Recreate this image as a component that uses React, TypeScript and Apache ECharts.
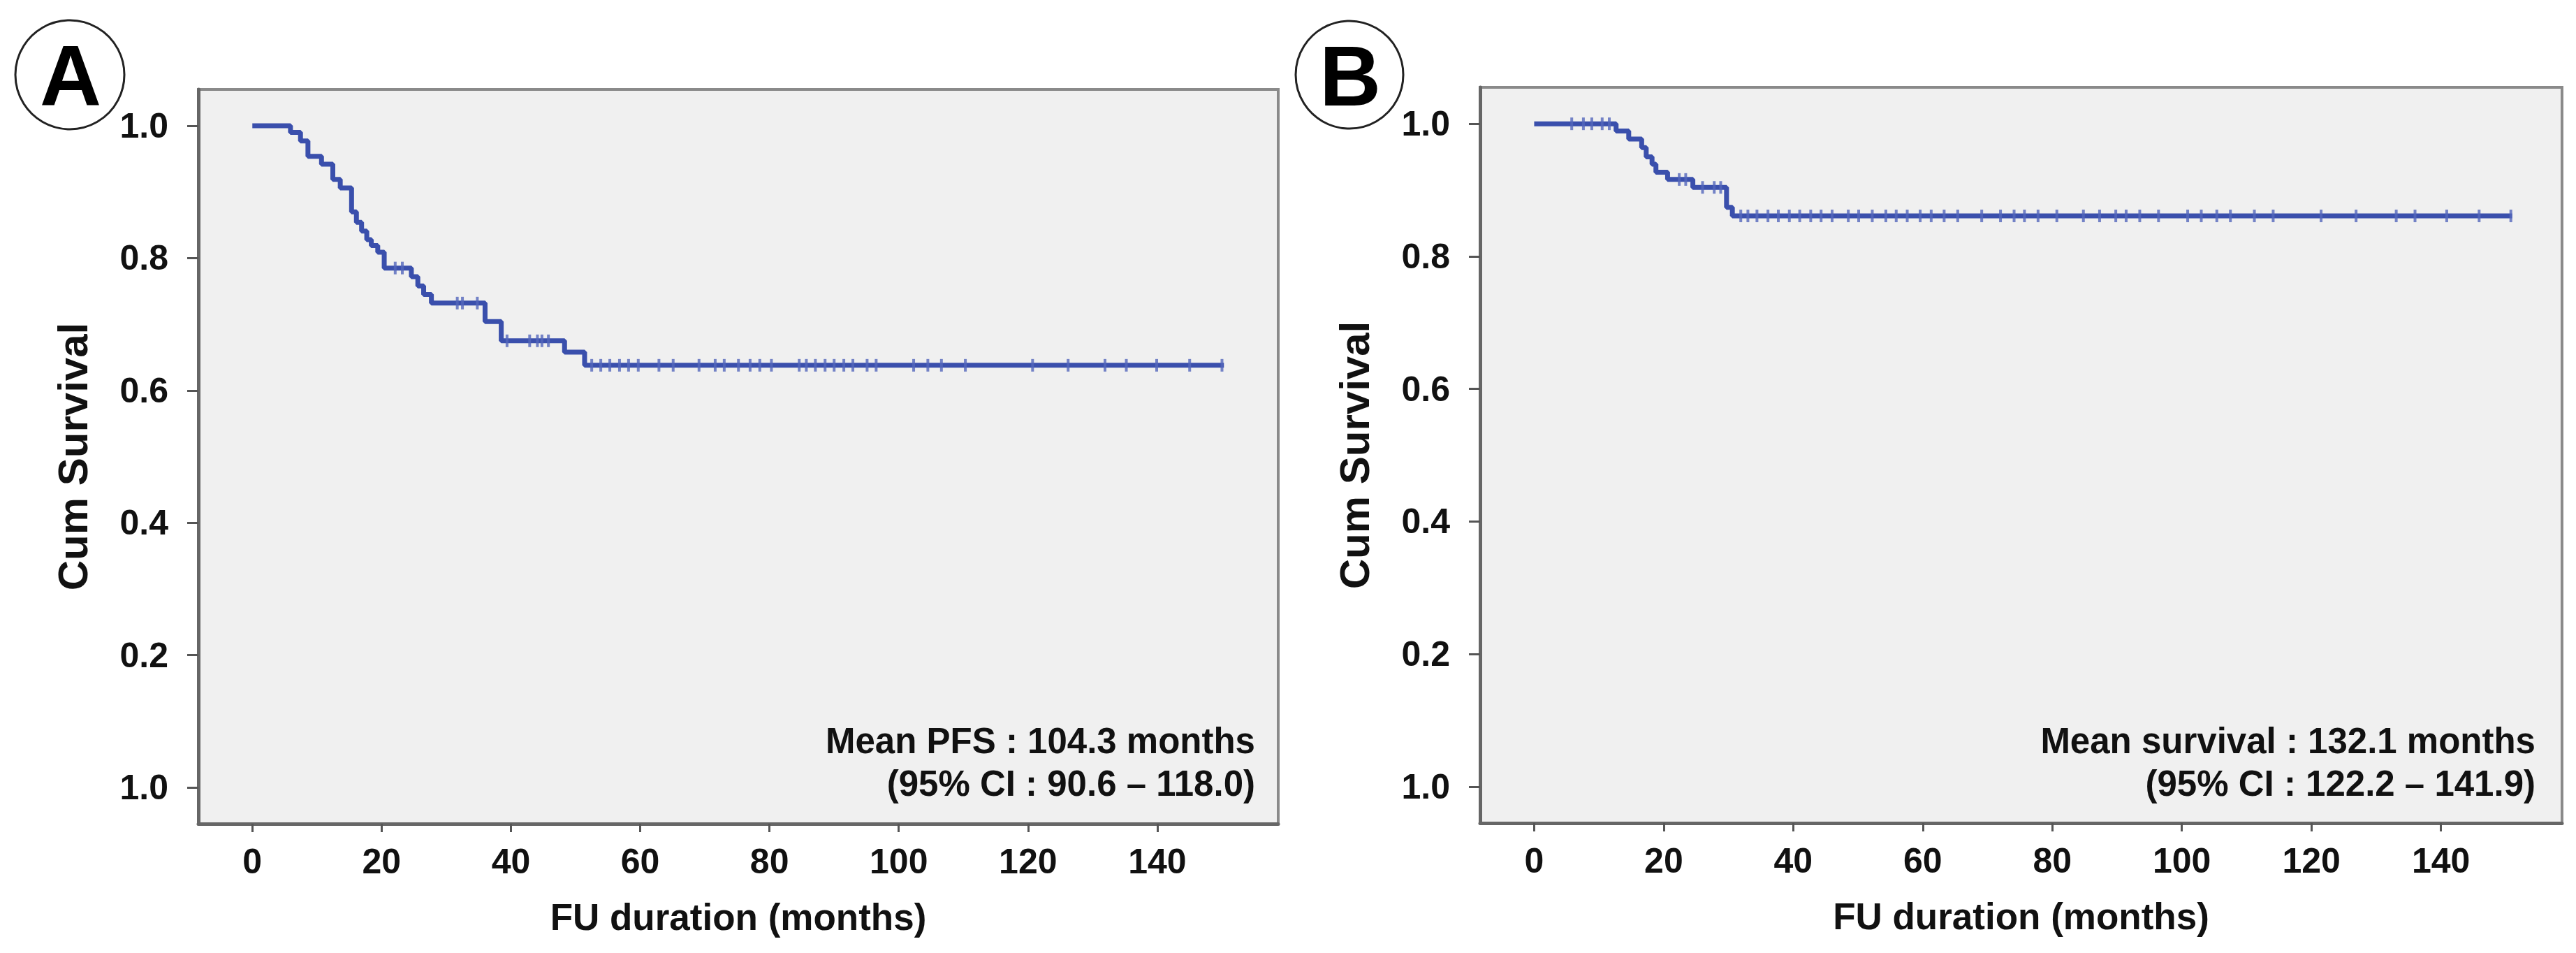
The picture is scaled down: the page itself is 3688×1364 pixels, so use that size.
import React, { useEffect, useRef } from "react";
import * as echarts from "echarts";

// ---------- data ----------
const xTickValues = [0, 20, 40, 60, 80, 100, 120, 140];
const yTickValues = [0, 0.2, 0.4, 0.6, 0.8, 1.0];
const yTickLabels = ["1.0", "0.2", "0.4", "0.6", "0.8", "1.0"];

// Panel A (PFS) Kaplan-Meier steps: event time (months) and survival after it
const timesA = [0, 5.9, 7.45, 8.6, 10.7, 12.45, 13.6, 15.35, 16.1, 16.9, 17.7, 18.4, 19.4, 20.4, 24.6, 25.6, 26.5, 27.7, 36.0, 38.5, 48.3, 51.4, 150.3];
const survA = [1.0, 0.99, 0.977, 0.954, 0.942, 0.919, 0.906, 0.87, 0.854, 0.841, 0.828, 0.819, 0.809, 0.785, 0.772, 0.758, 0.745, 0.732, 0.704, 0.675, 0.658, 0.638, 0.638];
const censorA = [22.1, 23.2, 31.7, 32.5, 34.8, 39.4, 42.9, 44.1, 44.8, 45.8, 52.5, 53.9, 55.3, 56.8, 58.2, 59.7, 62.9, 65.1, 69.1, 71.6, 73.0, 75.2, 77.0, 78.5, 80.3, 84.6, 85.7, 87.1, 88.6, 90.0, 91.5, 92.9, 95.1, 96.5, 102.3, 104.5, 106.6, 110.3, 120.7, 126.2, 131.9, 135.2, 139.9, 145.0, 150.0];

// Panel B (overall survival)
const timesB = [0, 12.65, 14.6, 16.6, 17.3, 18.2, 18.8, 20.6, 24.5, 29.7, 30.6, 151.0];
const survB = [1.0, 0.989, 0.977, 0.964, 0.95, 0.939, 0.927, 0.916, 0.904, 0.874, 0.861, 0.861];
const censorB = [5.8, 7.6, 8.9, 10.5, 11.6, 22.4, 23.4, 26.0, 27.8, 28.8, 31.9, 33.0, 34.4, 36.1, 37.7, 39.4, 41.0, 42.7, 44.3, 46.0, 48.5, 50.1, 52.2, 54.3, 55.9, 57.6, 59.6, 61.3, 63.3, 65.4, 69.1, 72.0, 74.1, 75.7, 77.8, 80.7, 84.8, 87.3, 89.8, 91.4, 93.5, 96.4, 100.9, 103.0, 105.4, 107.5, 111.2, 114.1, 121.5, 126.9, 133.1, 136.0, 140.9, 145.9, 150.8];

const panelLabels = ["A", "B"];
const annotA = ["Mean PFS : 104.3 months", "(95% CI : 90.6 \u2013 118.0)"];
const annotB = ["Mean survival : 132.1 months", "(95% CI : 122.2 \u2013 141.9)"];
const xTitle = "FU duration (months)";
const yTitle = "Cum Survival";

// ---------- styling ----------
const FONT = "'Liberation Sans', Arial, Helvetica, sans-serif";
const LINE_COLOR = "#3a4fac";
const CENSOR_COLOR = "#5466bb";

function survAt(times: number[], surv: number[], t: number) {
  let v = surv[0];
  for (let i = 0; i < times.length; i++) if (times[i] <= t) v = surv[i];
  return v;
}

const grids = [
  { left: 284, top: 128, width: 1546, height: 1051 },
  { left: 2119, top: 125, width: 1549, height: 1053 },
];

function makeX(i: number) {
  return {
    type: "value",
    gridIndex: i,
    min: -8.35,
    max: 158.7,
    name: xTitle,
    nameLocation: "middle",
    nameGap: 107,
    nameTextStyle: { fontFamily: FONT, fontWeight: "bold", fontSize: 53, color: "#111" },
    axisLine: { show: true, onZero: false, lineStyle: { color: "#666", width: 5 } },
    axisTick: { show: true, length: 12, customValues: xTickValues, lineStyle: { color: "#555", width: 3 } },
    axisLabel: {
      show: true,
      customValues: xTickValues,
      margin: 29,
      fontFamily: FONT,
      fontWeight: "bold",
      fontSize: 50,
      color: "#111",
    },
    splitLine: { show: false },
  };
}

function makeY(i: number) {
  return {
    type: "value",
    gridIndex: i,
    min: -0.055,
    max: 1.055,
    name: yTitle,
    nameLocation: "middle",
    nameGap: 150,
    nameTextStyle: { fontFamily: FONT, fontWeight: "bold", fontSize: 60, color: "#111" },
    axisLine: { show: true, onZero: false, lineStyle: { color: "#666", width: 5 } },
    axisTick: { show: true, length: 16, customValues: yTickValues, lineStyle: { color: "#555", width: 3 } },
    axisLabel: {
      show: true,
      customValues: yTickValues,
      margin: 43,
      fontFamily: FONT,
      fontWeight: "bold",
      fontSize: 50,
      color: "#111",
      formatter: (v: number) => {
        const idx = yTickValues.findIndex((t) => Math.abs(t - v) < 1e-6);
        return idx >= 0 ? yTickLabels[idx] : "";
      },
    },
    splitLine: { show: false },
  };
}

function kmSeries(i: number, times: number[], surv: number[], censor: number[]) {
  return [
    {
      type: "line",
      xAxisIndex: i,
      yAxisIndex: i,
      step: "end",
      showSymbol: false,
      symbol: "none",
      data: times.map((t, k) => [t, surv[k]]),
      lineStyle: { color: LINE_COLOR, width: 7 },
      z: 3,
    },
    {
      type: "scatter",
      xAxisIndex: i,
      yAxisIndex: i,
      symbol: "rect",
      symbolSize: [4, 18],
      data: censor.map((t) => [t, survAt(times, surv, t)]),
      itemStyle: { color: CENSOR_COLOR, opacity: 0.8 },
      z: 4,
    },
  ];
}

function annotation(lines: string[], right: number) {
  return lines.map((txt, k) => ({
    type: "text",
    x: right,
    y: k === 0 ? 1060 : 1121,
    z: 10,
    style: {
      text: txt,
      align: "right",
      verticalAlign: "middle",
      font: `bold 51px ${FONT}`,
      fill: "#111",
    },
  }));
}

function badge(label: string, cx: number, cy: number, r: number) {
  return [
    {
      type: "circle",
      shape: { cx, cy, r },
      z: 10,
      style: { fill: "#fff", stroke: "#222", lineWidth: 3 },
    },
    {
      type: "text",
      x: cx + 1,
      y: cy + 2,
      z: 11,
      style: {
        text: label,
        align: "center",
        verticalAlign: "middle",
        font: `bold 122px ${FONT}`,
        fill: "#000",
      },
    },
  ];
}

export default function App() {
  const ref = useRef<HTMLDivElement>(null);

  useEffect(() => {
    document.body.style.margin = "0";
    if (!ref.current) return;
    const chart = echarts.init(ref.current, null, { renderer: "svg" });
    chart.setOption({
      animation: false,
      backgroundColor: "#ffffff",
      grid: grids.map((g) => ({
        ...g,
        show: true,
        backgroundColor: "#f0f0f0",
        borderColor: "#8a8a8a",
        borderWidth: 4,
        containLabel: false,
      })),
      xAxis: [makeX(0), makeX(1)],
      yAxis: [makeY(0), makeY(1)],
      series: [
        ...kmSeries(0, timesA, survA, censorA),
        ...kmSeries(1, timesB, survB, censorB),
      ],
      graphic: [
        ...badge(panelLabels[0], 100, 107, 78),
        ...badge(panelLabels[1], 1932, 107, 77),
        ...annotation(annotA, 1797),
        ...annotation(annotB, 3630),
      ],
    });
    return () => chart.dispose();
  }, []);

  return <div ref={ref} style={{ width: 3688, height: 1364 }} />;
}
